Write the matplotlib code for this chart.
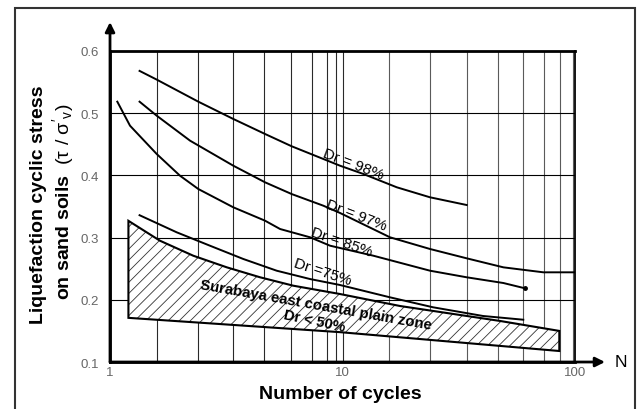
import numpy as np
import matplotlib.pyplot as plt
from matplotlib.patches import Rectangle

plt.rcParams['font.family'] = ['Liberation Sans', 'DejaVu Sans']
plt.rcParams['mathtext.fontset'] = 'custom'
plt.rcParams['mathtext.rm'] = 'Liberation Sans'
plt.rcParams['mathtext.it'] = 'Liberation Sans'
plt.rcParams['hatch.linewidth'] = 0.6

# curves (N, stress ratio)
n98 = [1.34, 1.588, 2.398, 3.391, 4.642, 6.046, 8.268, 9.755, 12.29, 17.11, 23.78, 34.2]
y98 = [0.568, 0.554, 0.5185, 0.4907, 0.4666, 0.4468, 0.4264, 0.4156, 0.4023, 0.3809, 0.3648, 0.3524]

n97 = [1.34, 1.588, 2.21, 3.391, 4.642, 6.046, 8.268, 9.755, 16.0, 23.78, 34.2, 49.2, 73.1, 100]
y97 = [0.5185, 0.496, 0.4558, 0.4156, 0.3889, 0.370, 0.3513, 0.3396, 0.3005, 0.2817, 0.2667,
       0.2522, 0.2442, 0.2442]

n85 = [1.075, 1.219, 1.588, 2.0, 2.398, 3.391, 4.642, 5.39, 7.25, 8.84, 13.57, 23.78, 34.2, 49.2, 60.9]
y85 = [0.5185, 0.4799, 0.4344, 0.3995, 0.3781, 0.3487, 0.3272, 0.3138, 0.3005, 0.287, 0.2709,
       0.2468, 0.2362, 0.227, 0.2185]

n75 = [1.34, 1.936, 2.69, 3.745, 5.21, 7.25, 9.755, 16.0, 24.5, 40.2, 59.9]
y75 = [0.336, 0.3085, 0.287, 0.2656, 0.2468, 0.2334, 0.2238, 0.204, 0.188, 0.174, 0.168]

# Surabaya zone (Dr < 50%)
zone_top_n = [1.20, 1.64, 2.28, 3.18, 4.42, 6.14, 9.755, 17.7, 47.6, 85.6]
zone_top_y = [0.327, 0.295, 0.2709, 0.2522, 0.2362, 0.2227, 0.2093, 0.190, 0.166, 0.150]
zone_bot_n = [1.20, 9.755, 85.6]
zone_bot_y = [0.171, 0.148, 0.1177]

# vertical grid lines as drawn in the picture
grid_n = [1.59, 2.38, 3.39, 4.61, 6.0, 7.37, 8.55, 9.38, 10,
          15.8, 23.9, 34.2, 46.8, 59.9, 73.8, 86.2, 97.8]
y_ticks = [0.1, 0.2, 0.3, 0.4, 0.5, 0.6]
x_ticks = [1, 10, 100]

fig = plt.figure(figsize=(6.37, 4.10), dpi=100)
ax = fig.add_axes([0.1727, 0.1146, 0.7300, 0.7586])

ax.set_xscale('log')
ax.set_xlim(1, 100)
ax.set_ylim(0.1, 0.6)

for i, g in enumerate(grid_n):
    ax.axvline(g, color='#2a2a2a' if g <= 10 else '#5a5a5a', lw=0.8, zorder=1)
for v in y_ticks[1:-1]:
    ax.axhline(v, color='k', lw=0.8, zorder=1)

ax.set_xticks(x_ticks)
ax.set_xticklabels([str(t) for t in x_ticks])
ax.minorticks_off()
ax.set_yticks(y_ticks)
ax.set_yticklabels([str(t) for t in y_ticks])
ax.tick_params(axis='both', length=0, labelcolor='#666666', labelsize=9.5)
ax.tick_params(axis='y', pad=8)
ax.tick_params(axis='x', pad=3)

for s in ['top', 'left', 'bottom']:
    ax.spines[s].set_linewidth(2)
ax.spines['right'].set_linewidth(1.3)

# zone polygon
pn = zone_top_n + zone_bot_n[::-1]
py = zone_top_y + zone_bot_y[::-1]
ax.fill(pn, py, facecolor='white', edgecolor='#333333', hatch='///', lw=0, zorder=2)
ax.fill(pn, py, facecolor='none', edgecolor='k', lw=1.5, zorder=3)

for n, y in [(n98, y98), (n97, y97), (n85, y85), (n75, y75)]:
    ax.plot(n, y, color='k', lw=1.4, zorder=4)
ax.plot(n85[-1], y85[-1], 'o', color='k', ms=2.5, zorder=4)

ax.text(11.1, 0.4195, 'Dr = 98%', rotation=-21, ha='center', va='center', fontsize=11, zorder=5)
ax.text(11.5, 0.3367, 'Dr = 97%', rotation=-21, ha='center', va='center', fontsize=11, zorder=5)
ax.text(9.92, 0.2937, 'Dr = 85%', rotation=-19, ha='center', va='center', fontsize=11, zorder=5)
ax.text(8.2, 0.2463, 'Dr =75%', rotation=-18, ha='center', va='center', fontsize=11, zorder=5)
ax.text(7.69, 0.1932, 'Surabaya east coastal plain zone', rotation=-10, ha='center',
        va='center', fontsize=10.8, fontweight='bold', zorder=5)
ax.text(7.54, 0.166, 'Dr < 50%', rotation=-12, ha='center', va='center',
        fontsize=10.5, fontweight='bold', zorder=5)

# axis arrows
ax.annotate('', xy=(0, 1.093), xytext=(0, 0), xycoords='axes fraction',
            arrowprops=dict(arrowstyle='-|>', lw=2, color='k', mutation_scale=14, shrinkA=0, shrinkB=0),
            annotation_clip=False)
ax.annotate('', xy=(1.0645, 0), xytext=(0, 0), xycoords='axes fraction',
            arrowprops=dict(arrowstyle='-|>', lw=2, color='k', mutation_scale=14, shrinkA=0, shrinkB=0),
            annotation_clip=False)

fig.text(0.975, 0.117, 'N', fontsize=12.5, ha='center', va='center')
fig.text(0.535, 0.039, 'Number of cycles', fontsize=14, fontweight='bold', ha='center', va='center')
fig.text(0.0597, 0.50, 'Liquefaction cyclic stress', rotation=90, fontsize=14,
         fontweight='bold', ha='center', va='center')
fig.text(0.0989, 0.507, r"on sand soils  $(\tau\ /\ \sigma'_{v})$", rotation=90, fontsize=14,
         fontweight='bold', ha='center', va='center')

fig.add_artist(Rectangle((0.0235, -0.02), 0.9734, 0.998, transform=fig.transFigure,
                         fill=False, lw=1.5, edgecolor='#333333'))

fig.savefig('out.png', dpi=100)
